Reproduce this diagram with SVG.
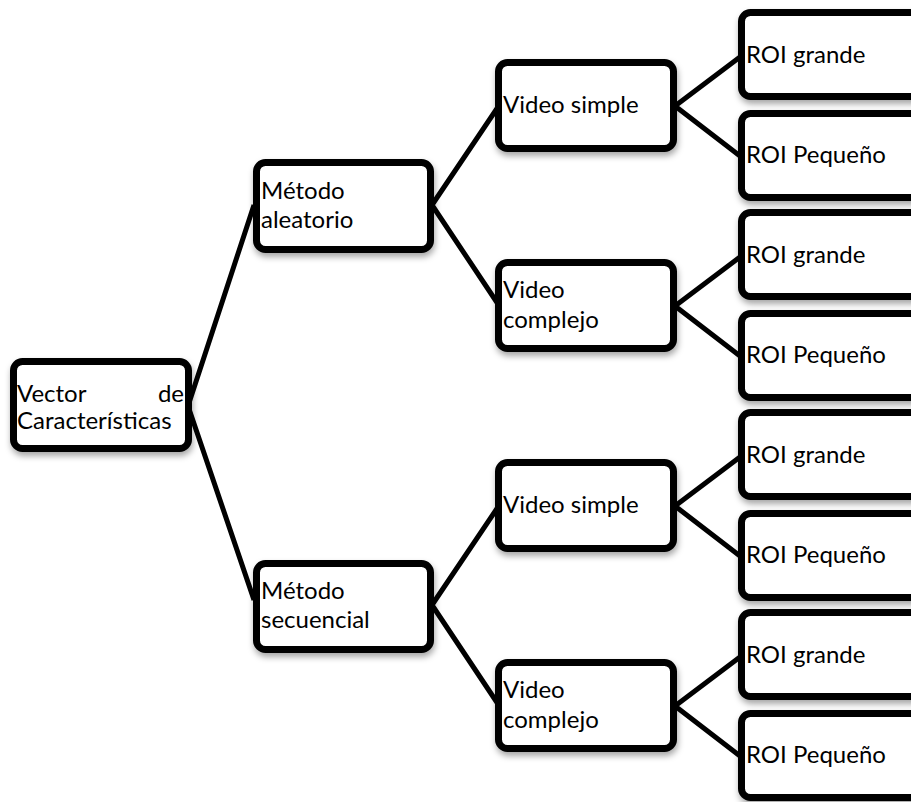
<svg xmlns="http://www.w3.org/2000/svg" width="911" height="802" viewBox="0 0 911 802">
<style>
.box{fill:#fff;stroke:#000;stroke-width:7}
.lbl{font-family:Lato,"Open Sans","Liberation Sans",sans-serif;font-size:24px;fill:#000}
.con{stroke:#000;stroke-width:5;fill:none}
</style>
<defs>
<filter id="sh" x="-10%" y="-10%" width="130%" height="140%">
<feDropShadow dx="1" dy="4" stdDeviation="3" flood-color="#000" flood-opacity="0.35"/>
</filter>
</defs>
<rect width="911" height="802" fill="#fff"/>
<g id="connectors">
<path class="con" d="M188 406 L254 205 M188 406 L254 600"/>
<path class="con" d="M432 205 L498 107 M432 205 L498 304"/>
<path class="con" d="M432 605 L498 507 M432 605 L498 704"/>
<path class="con" d="M675 106 L740 57 M675 106 L740 156"/>
<path class="con" d="M675 306 L740 257 M675 306 L740 356"/>
<path class="con" d="M675 506 L740 457 M675 506 L740 556"/>
<path class="con" d="M675 706 L740 657 M675 706 L740 756"/>
</g>
<g id="vector"><rect class="box" filter="url(#sh)" x="13.5" y="361.5" width="175" height="87" rx="9"/>
<text class="lbl" x="17" y="402">Vector</text><text class="lbl" x="184" y="402" text-anchor="end">de</text><text class="lbl" x="17" y="429">Características</text></g>
<g id="metodo-aleatorio"><rect class="box" filter="url(#sh)" x="256.5" y="162.5" width="174" height="87" rx="9"/>
<text class="lbl" x="261" y="199">Método</text><text class="lbl" x="261" y="228">aleatorio</text></g>
<g id="metodo-secuencial"><rect class="box" filter="url(#sh)" x="256.5" y="563.5" width="174" height="86" rx="9"/>
<text class="lbl" x="261" y="599">Método</text><text class="lbl" x="261" y="628">secuencial</text></g>
<g id="video-simple-1"><rect class="box" filter="url(#sh)" x="498.5" y="62.5" width="175" height="86" rx="9"/>
<text class="lbl" x="503" y="113">Video simple</text></g>
<g id="video-complejo-1"><rect class="box" filter="url(#sh)" x="498.5" y="262.5" width="175" height="86" rx="9"/>
<text class="lbl" x="503" y="298">Video</text><text class="lbl" x="503" y="328">complejo</text></g>
<g id="video-simple-2"><rect class="box" filter="url(#sh)" x="498.5" y="462.5" width="175" height="86" rx="9"/>
<text class="lbl" x="503" y="513">Video simple</text></g>
<g id="video-complejo-2"><rect class="box" filter="url(#sh)" x="498.5" y="662.5" width="175" height="86" rx="9"/>
<text class="lbl" x="503" y="698">Video</text><text class="lbl" x="503" y="728">complejo</text></g>
<g id="roi-1a"><rect class="box" filter="url(#sh)" x="741.5" y="12.5" width="200" height="84" rx="9"/><text class="lbl" x="746" y="63">ROI grande</text></g>
<g id="roi-1b"><rect class="box" filter="url(#sh)" x="741.5" y="113.5" width="200" height="84" rx="9"/><text class="lbl" x="746" y="163">ROI Pequeño</text></g>
<g id="roi-2a"><rect class="box" filter="url(#sh)" x="741.5" y="212.5" width="200" height="84" rx="9"/><text class="lbl" x="746" y="263">ROI grande</text></g>
<g id="roi-2b"><rect class="box" filter="url(#sh)" x="741.5" y="313.5" width="200" height="84" rx="9"/><text class="lbl" x="746" y="363">ROI Pequeño</text></g>
<g id="roi-3a"><rect class="box" filter="url(#sh)" x="741.5" y="412.5" width="200" height="84" rx="9"/><text class="lbl" x="746" y="463">ROI grande</text></g>
<g id="roi-3b"><rect class="box" filter="url(#sh)" x="741.5" y="513.5" width="200" height="84" rx="9"/><text class="lbl" x="746" y="563">ROI Pequeño</text></g>
<g id="roi-4a"><rect class="box" filter="url(#sh)" x="741.5" y="612.5" width="200" height="84" rx="9"/><text class="lbl" x="746" y="663">ROI grande</text></g>
<g id="roi-4b"><rect class="box" filter="url(#sh)" x="741.5" y="713.5" width="200" height="84" rx="9"/><text class="lbl" x="746" y="763">ROI Pequeño</text></g>
</svg>
